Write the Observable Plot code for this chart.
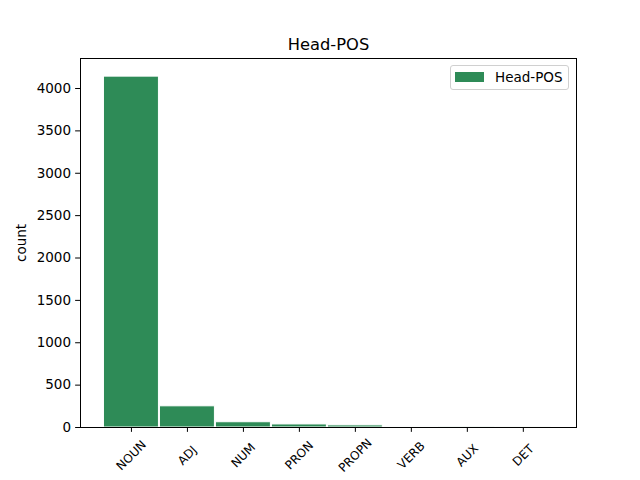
<!DOCTYPE html>
<html><head><meta charset="utf-8">
<script src="https://cdn.jsdelivr.net/npm/d3@7"></script>
<script src="https://cdn.jsdelivr.net/npm/@observablehq/plot@0.6"></script>
<style>
body{margin:0;background:#fff;}
#wrap{position:relative;width:640px;height:480px;font-family:"DejaVu Sans",sans-serif;}
#legend{position:absolute;left:450px;top:65px;width:119px;height:25px;border:1px solid #d0d0d0;border-radius:3px;background:rgba(255,255,255,0.8);box-sizing:border-box;}
#legend .sw{position:absolute;left:4px;top:6px;width:29px;height:10px;background:#2E8B57;}
#legend .lb{position:absolute;left:44px;top:3px;font-size:13.5px;color:#000;white-space:nowrap;}
</style></head>
<body><div id="wrap"><div id="legend"><div class="sw"></div><div class="lb">Head-POS</div></div></div>
<script>
const categories = ["NOUN","ADJ","NUM","PRON","PROPN","VERB","AUX","DET"];
const counts = [4140, 250, 62, 36, 25, 12, 3, 1];
const yTicks = [0,500,1000,1500,2000,2500,3000,3500,4000];
const title = "Head-POS";
const yLabel = "count";

const data = categories.map((c,i)=>({cat:c, i, v:counts[i]}));

const chart = Plot.plot({
  width: 640, height: 480,
  marginTop: 58, marginBottom: 53, marginLeft: 80, marginRight: 64,
  style: {fontFamily: "DejaVu Sans, sans-serif", fontSize: "13.5px", color: "#000", background: "white"},
  x: {domain: [-0.91, 7.95]},
  y: {domain: [0, 4354]},
  marks: [
    Plot.rectY(data, {x1: d=>d.i-0.5, x2: d=>d.i+0.5, y1: 0, y2: "v", fill: "#2E8B57", stroke: "white", strokeWidth: 1, insetLeft: 0.5, insetRight: 0.5}),
    Plot.frame({stroke: "black", strokeWidth: 1}),
    Plot.axisY({ticks: yTicks, tickFormat: () => "", tickSize: 4.86, label: null}),
    Plot.text(yTicks, {y: d => d, text: d => String(d), frameAnchor: "left", dx: -9.5, textAnchor: "end", lineAnchor: "middle", fontSize: 13.5}),
    Plot.text([yLabel], {text: d => d, frameAnchor: "left", dx: -58.5, rotate: -90, textAnchor: "middle", lineAnchor: "middle", fontSize: 13.5}),
    Plot.axisX({ticks: d3.range(categories.length), tickFormat: () => "", tickSize: 4.86, label: null}),
    Plot.text(data, {x: "i", text: "cat", frameAnchor: "bottom", dy: 28, rotate: -45, textAnchor: "middle", lineAnchor: "middle", fontSize: 12}),
    Plot.text([title], {text: d=>d, frameAnchor: "top", dy: -9, lineAnchor: "bottom", fontSize: 16.3})
  ]
});
document.getElementById("wrap").prepend(chart);
</script></body></html>
